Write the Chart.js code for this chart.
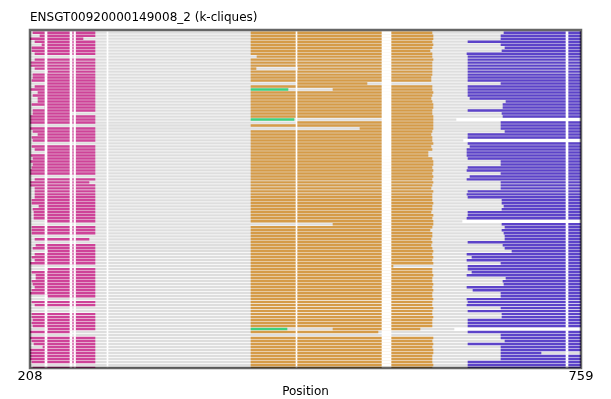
<!DOCTYPE html>
<html>
<head>
<meta charset="utf-8">
<script src="https://cdn.jsdelivr.net/npm/chart.js@4.4.0/dist/chart.umd.min.js"></script>
<style>
  html, body { margin: 0; padding: 0; background: #fff; }
</style>
</head>
<body>
<canvas id="chart" width="611" height="399"></canvas>
<script>
// one entry per aligned sequence, top to bottom (null = segment missing)
var magStart = [211,218,208,213,220,210,210,213,null,213,
                209,209,213,226,211,211,210,225,213,209,
                216,211,216,216,210,223,211,211,208,208,
                208,null,208,211,216,210,211,null,210,213,
                225,209,211,208,211,210,208,208,null,213,
                208,208,213,213,213,213,210,210,217,211,
                212,212,212,225,null,210,210,210,null,213,
                null,214,211,226,213,210,213,208,null,226,
                210,214,214,210,211,213,210,208,226,null,
                210,213,null,null,210,210,211,210,211,226,
                208,null,208,210,212,221,208,208,208,208,
                210,null,211];
var magEnd   = [273,273,261,273,273,273,273,273,273,273,
                273,273,273,273,273,273,273,273,273,273,
                273,273,273,273,273,273,273,249,273,273,
                273,273,273,273,273,273,273,273,273,273,
                273,273,273,273,273,273,273,273,273,273,
                267,273,273,273,273,273,273,273,273,273,
                273,273,273,273,273,273,273,273,273,267,
                273,273,273,273,273,273,273,273,273,273,
                273,273,273,273,273,273,273,273,273,273,
                273,273,273,273,273,273,273,273,273,273,
                249,273,273,273,273,273,273,273,273,273,
                273,273,273];
var orgStart = [429,429,429,429,429,429,429,429,435,429,
                429,429,429,429,429,429,429,475,429,511,
                429,429,429,429,429,429,429,429,429,567,
                475,429,538,429,429,429,429,429,429,429,
                429,429,429,429,429,429,429,429,429,429,
                429,429,429,429,429,429,429,429,429,429,
                429,429,429,429,511,429,429,429,429,429,
                429,429,429,429,429,429,429,429,429,429,
                429,429,429,429,429,429,429,429,429,429,
                429,429,429,429,429,429,429,429,429,511,
                429,null,429,429,429,429,429,429,429,429,
                429,429,429];
var orgEnd   = [610,611,611,610,611,610,608,610,610,611,
                610,610,434,610,610,609,609,545,610,610,
                611,610,609,610,611,611,610,610,611,611,
                611,611,611,610,609,610,610,611,609,610,
                606,606,610,611,611,610,611,610,611,610,
                611,610,609,611,610,610,610,611,610,610,
                609,611,610,611,611,610,608,610,610,609,
                610,609,610,611,610,611,610,611,571,610,
                610,611,610,610,611,610,611,610,610,611,
                610,610,611,610,610,611,610,610,610,598,
                556,610,611,610,611,610,611,611,610,610,
                610,611,610];
var orgExtraRow = [12];
var orgExtraFrom = [476];
var orgExtraTo = [610];
var greenRow = [19, 29, 99];
var greenFrom = [429, 429, 429];
var greenTo = [466, 472, 465];
var purStart = [682,679,679,646,679,683,680,645,646,646,
                646,646,646,646,646,646,646,679,646,646,
                646,646,648,684,681,681,646,680,681,null,
                679,679,679,683,646,646,null,646,648,645,
                645,645,646,679,679,646,645,679,648,645,
                679,679,679,646,645,646,680,680,682,680,
                646,646,645,null,680,683,680,682,683,683,
                646,681,683,690,645,650,645,679,646,646,
                650,645,684,681,682,645,651,679,679,645,
                646,645,679,646,680,680,646,646,646,null,
                646,679,679,683,646,679,679,679,679,679,
                646,646,646];
var purEndRow = [107];
var purEndVal = [719];
var grayCutRow = [29, 36, 63, 99];
var grayCutEnd = [634, 641, 640, 632];
// alignment gap columns (white)
var gapFrom = [223, 248, 252, 285, 474, 560, 744];
var gapTo   = [225, 250, 253.5, 286, 475, 569, 746];
var xTicks = [208, 759];

var nRows = magStart.length;

function rowSegs(starts, ends) {
    var out = [];
    for (var i = 0; i < nRows; i++) {
        if (starts[i] === null) continue;
        out.push({ x: [starts[i], ends[i]], y: i });
    }
    return out;
}

var grayData = [];
for (var i = 0; i < nRows; i++) {
    var k = grayCutRow.indexOf(i);
    grayData.push({ x: [208, k >= 0 ? grayCutEnd[k] : 759], y: i });
}

var purData = [];
for (var i = 0; i < nRows; i++) {
    if (purStart[i] === null) continue;
    var k = purEndRow.indexOf(i);
    purData.push({ x: [purStart[i], k >= 0 ? purEndVal[k] : 759], y: i });
}

var orgData = rowSegs(orgStart, orgEnd);
orgExtraRow.forEach(function (r, j) {
    orgData.push({ x: [orgExtraFrom[j], orgExtraTo[j]], y: r });
});

var greenData = greenRow.map(function (r, j) {
    return { x: [greenFrom[j], greenTo[j]], y: r };
});

var gapData = [];
for (var g = 0; g < gapFrom.length; g++) {
    for (var i = 0; i < nRows; i++) {
        gapData.push({ x: [gapFrom[g], gapTo[g]], y: i });
    }
}

// frame drawn on top of the bars, like the reference
var framePlugin = {
    id: 'frame',
    afterDatasetsDraw: function (chart) {
        var a = chart.chartArea;
        var ctx = chart.ctx;
        ctx.save();
        ctx.strokeStyle = 'rgba(0,0,0,0.6)';
        ctx.lineWidth = 2.5;
        ctx.strokeRect(a.left, a.top, a.right - a.left, a.bottom - a.top);
        ctx.restore();
    }
};

new Chart(document.getElementById('chart'), {
    type: 'bar',
    data: {
        datasets: [
            { label: 'gaps', data: gapData, backgroundColor: '#ffffff', barThickness: 2.4, order: 0 },
            { label: 'k-clique 1', data: rowSegs(magStart, magEnd), backgroundColor: '#ce4398', barThickness: 1.8, order: 1 },
            { label: 'k-clique 2', data: orgData, backgroundColor: '#d59b48', barThickness: 1.8, order: 1 },
            { label: 'k-clique 3', data: greenData, backgroundColor: '#3ecf7e', barThickness: 1.8, order: 1 },
            { label: 'k-clique 4', data: purData, backgroundColor: '#5c43c9', barThickness: 1.8, order: 1 },
            { label: 'sequence', data: grayData, backgroundColor: '#dedede', barThickness: 1.6, order: 2 }
        ]
    },
    options: {
        indexAxis: 'y',
        responsive: false,
        animation: false,
        events: [],
        datasets: { bar: { grouped: false, borderWidth: 0 } },
        layout: { padding: { left: 30, right: 30, top: 0, bottom: 0 } },
        plugins: {
            legend: { display: false },
            tooltip: { enabled: false },
            title: {
                display: true,
                text: 'ENSGT00920000149008_2 (k-cliques)',
                align: 'start',
                color: '#000',
                font: { family: 'DejaVu Sans', size: 12, weight: 'normal', lineHeight: 1.2 },
                padding: { top: 11, bottom: 4.6 }
            }
        },
        scales: {
            y: {
                type: 'linear',
                reverse: true,
                offset: false,
                min: -0.9,
                max: 112,
                display: false
            },
            x: {
                type: 'linear',
                min: 208,
                max: 759,
                afterBuildTicks: function (axis) {
                    axis.ticks = xTicks.map(function (v) { return { value: v }; });
                },
                afterFit: function (axis) { axis.height = 31; },
                grid: { display: false, drawTicks: false },
                border: { display: false },
                ticks: {
                    padding: 2,
                    maxRotation: 0,
                    autoSkip: false,
                    color: '#000',
                    font: { family: 'DejaVu Sans', size: 13, lineHeight: 1 }
                },
                title: {
                    display: true,
                    text: 'Position',
                    color: '#000',
                    font: { family: 'DejaVu Sans', size: 12, lineHeight: 1 },
                    padding: { top: 1, bottom: 1 }
                }
            }
        }
    },
    plugins: [framePlugin]
});
</script>
</body>
</html>
